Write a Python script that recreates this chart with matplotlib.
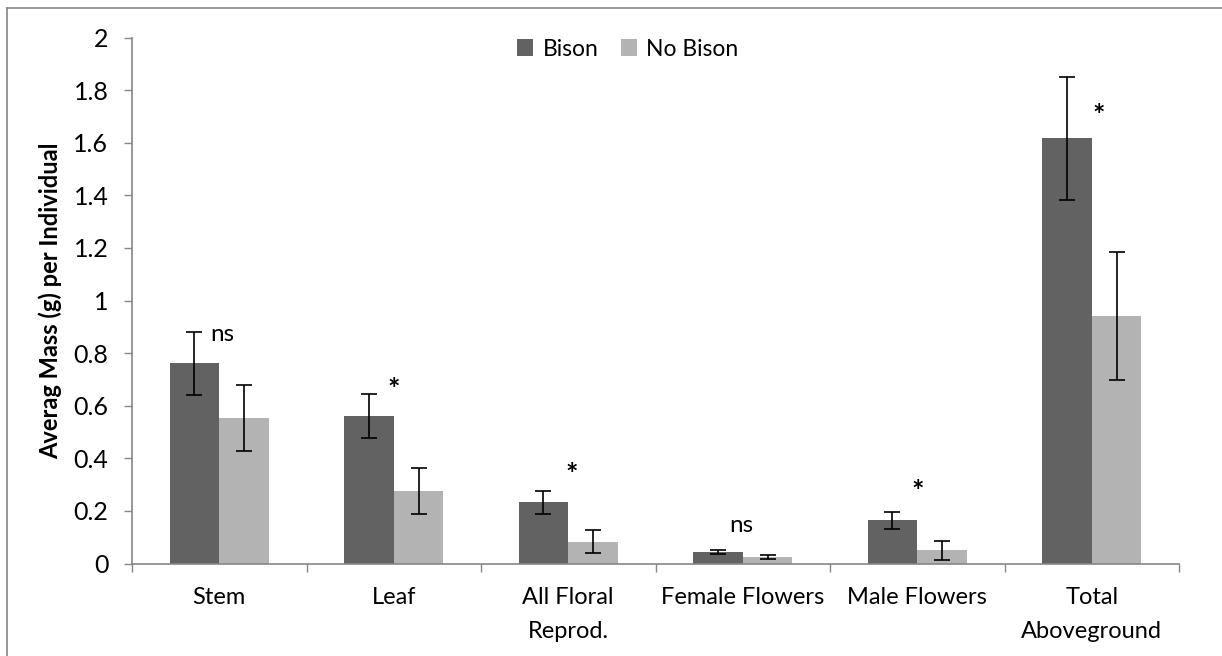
import matplotlib
matplotlib.use("Agg")
import matplotlib.pyplot as plt
import numpy as np
from matplotlib.lines import Line2D

categories = ["Stem", "Leaf", "All Floral\nReprod.", "Female Flowers", "Male Flowers", "Total\nAboveground"]
bison = [0.761, 0.560, 0.233, 0.044, 0.164, 1.617]
bison_err = [0.121, 0.084, 0.043, 0.008, 0.033, 0.234]
no_bison = [0.553, 0.276, 0.083, 0.024, 0.050, 0.941]
no_bison_err = [0.127, 0.087, 0.044, 0.008, 0.035, 0.245]
sig_labels = ["ns", "*", "*", "ns", "*", "*"]
sig_x_offset = [0.02, 0.0, 0.02, -0.01, 0.0, 0.04]
sig_y = [0.87, 0.66, 0.335, 0.145, 0.27, 1.70]
y_ticks = [0, 0.2, 0.4, 0.6, 0.8, 1, 1.2, 1.4, 1.6, 1.8, 2]
y_tick_labels = ["0", "0.2", "0.4", "0.6", "0.8", "1", "1.2", "1.4", "1.6", "1.8", "2"]

plt.rcParams['font.family'] = ['Lato', 'DejaVu Sans']

fig = plt.figure(figsize=(12.22, 6.56), dpi=100)
ax = fig.add_axes([132/1222, 1-563.5/656, (1179-132)/1222, (563.5-37.5)/656])

axis_col = "#868686"
dark = "#626262"
light = "#b3b3b3"
x = np.arange(len(categories))
w = 0.285
ax.bar(x - w/2, bison, w, color=dark, label="Bison", zorder=2)
ax.bar(x + w/2, no_bison, w, color=light, label="No Bison", zorder=2)
ax.errorbar(x - w/2, bison, yerr=bison_err, fmt='none', ecolor='black',
            elinewidth=1.2, capsize=6, capthick=1.2, zorder=3)
ax.errorbar(x + w/2, no_bison, yerr=no_bison_err, fmt='none', ecolor='black',
            elinewidth=1.2, capsize=6, capthick=1.2, zorder=3)

for i, (lab, dx, yy) in enumerate(zip(sig_labels, sig_x_offset, sig_y)):
    if lab == "*":
        ax.text(i + dx, yy, lab, ha='center', va='center', fontsize=21, fontweight='bold', color='black')
    else:
        ax.text(i + dx, yy, lab, ha='center', va='center', fontsize=17.5, color='black')

ax.set_xlim(-0.5, len(categories) - 0.5)
ax.set_ylim(0, 2)
ax.set_yticks(y_ticks)
ax.set_yticklabels(y_tick_labels, fontsize=18)
ax.set_xticks(x)
ax.set_xticklabels(categories, fontsize=17, linespacing=1.75)
ax.set_xticks(np.arange(-0.5, len(categories)), minor=True)
ax.tick_params(axis='x', which='major', length=0, pad=17)
ax.tick_params(axis='x', which='minor', length=6, width=1, color=axis_col, direction='out')
ax.tick_params(axis='y', length=6, width=1, color=axis_col, direction='out', pad=11)

for s in ['top', 'right']:
    ax.spines[s].set_visible(False)
for s in ['left', 'bottom']:
    ax.spines[s].set_color(axis_col)
    ax.spines[s].set_linewidth(1.2)

ax.set_ylabel("Averag Mass (g) per Individual", fontsize=17, fontweight='bold', labelpad=8)

leg = fig.legend(loc='center', bbox_to_anchor=(628/1222, 1-49/656), ncol=2, frameon=False,
                 fontsize=16.5, handlelength=0.7, handleheight=0.7, handletextpad=0.4,
                 columnspacing=1.0)

# outer chart frame (left and top edges visible)
fig.add_artist(Line2D([7/1222, 7/1222], [0, 1-8/656], color=axis_col, lw=1.2, transform=fig.transFigure))
fig.add_artist(Line2D([7/1222, 1], [1-8/656, 1-8/656], color=axis_col, lw=1.2, transform=fig.transFigure))

fig.savefig("out.png", dpi=100)
